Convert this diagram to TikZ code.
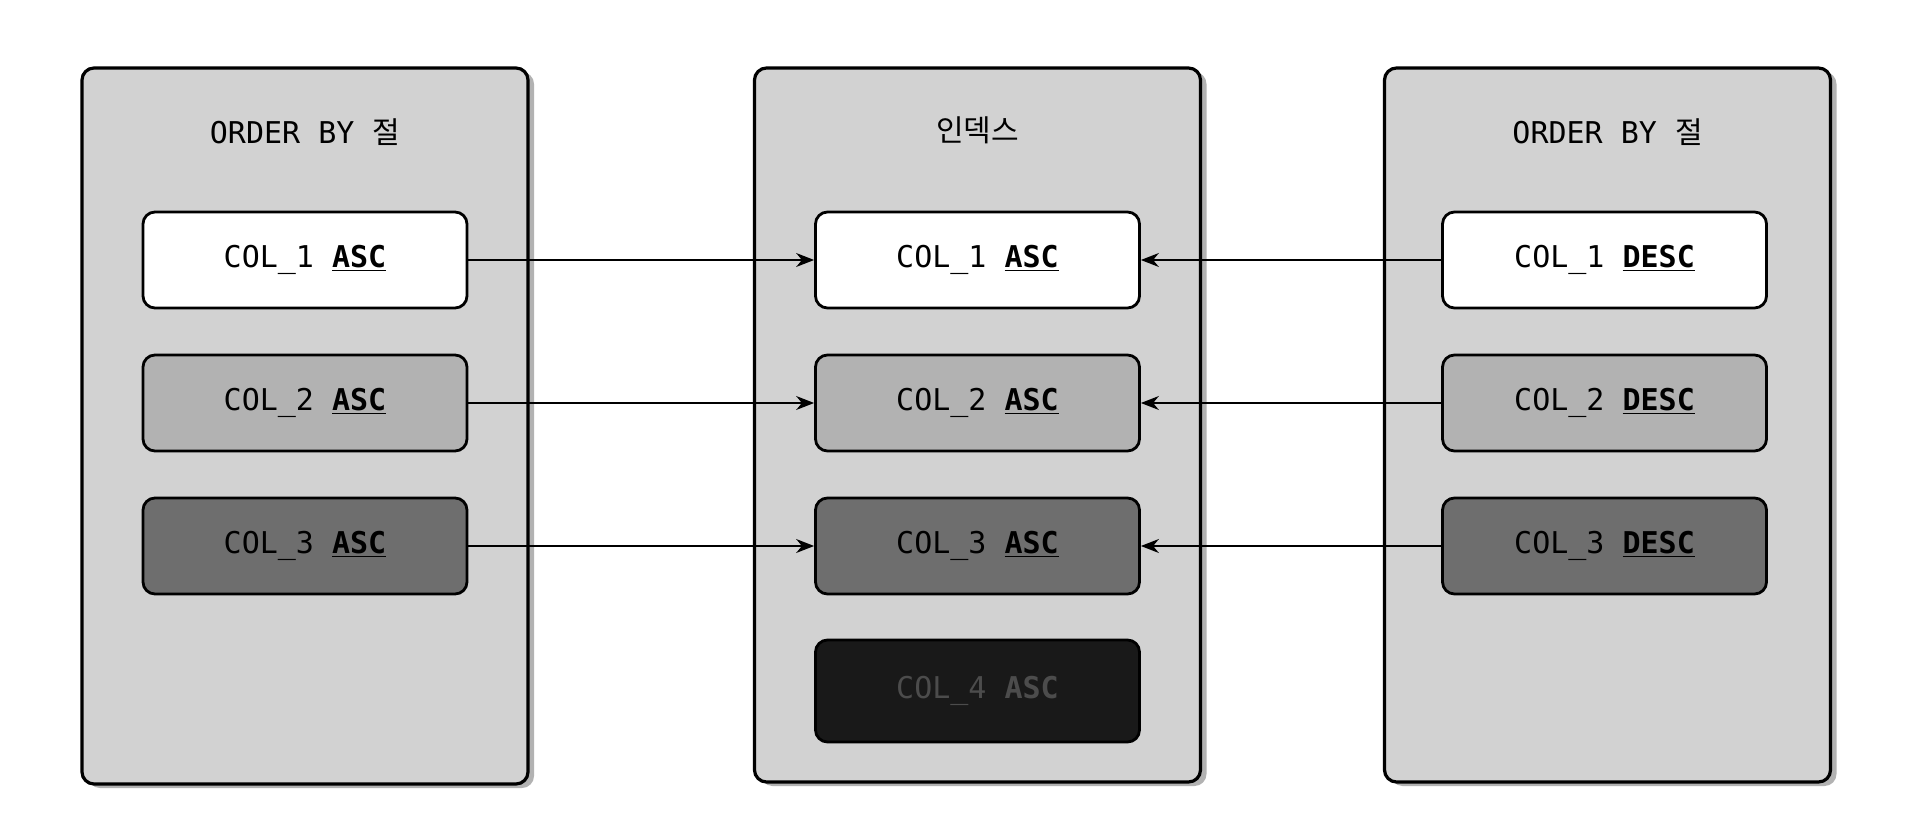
\documentclass[tikz,border=0pt]{standalone}
\usepackage{fontspec}
\setmonofont{DejaVu Sans Mono}
\newfontfamily\kr{Noto Sans CJK KR}
\usetikzlibrary{shadows,arrows.meta}
\begin{document}
\begin{tikzpicture}[x=0.5pt,y=-0.5pt,
 panel/.style={draw=black,line width=1.6pt,rounded corners=6pt,fill=gray!35!white,minimum width=223pt,minimum height=358pt,drop shadow={shadow xshift=3pt,shadow yshift=-2pt,opacity=0.6}},
 item/.style={draw=black,line width=1.4pt,rounded corners=6pt,minimum width=162pt,minimum height=48pt,font=\ttfamily\fontsize{15}{18}\selectfont,inner sep=0pt},
 ttl/.style={font=\ttfamily\fontsize{15}{18}\selectfont},
 conn/.style={-{Stealth[length=9pt,width=7pt]},line width=0.7pt}]
\useasboundingbox (0,0) rectangle (1920,839);
\fill[white] (0,0) rectangle (1920,839);
\node[panel] (pl) at (305,426) {};
\node[panel,minimum height=357pt] (pm) at (977.5,425) {};
\node[panel,minimum height=357pt] (pr) at (1607.5,425) {};
\node[ttl] (tl) at (305,132) {ORDER BY {\kr 절}};
\node[ttl] (tm) at (977.5,130) {\kr 인덱스};
\node[ttl] (tr) at (1607.5,132) {ORDER BY {\kr 절}};
\foreach \p/\x/\w in {l/305/ASC,m/977.5/ASC,r/1604.5/DESC}{
 \node[item,fill=white] (\p1) at (\x,260) {COL\_1 \textbf{\underline{\w}}};
 \node[item,fill=gray!60!white] (\p2) at (\x,403) {COL\_2 \textbf{\underline{\w}}};
 \node[item,fill=gray!105!black!0,fill=black!57] (\p3) at (\x,546) {COL\_3 \textbf{\underline{\w}}};
}
\node[item,fill=black!90,text=black!70,minimum height=51pt] (m4) at (977.5,691) {COL\_4 \textbf{ASC}};
\foreach \i in {1,2,3}{
 \draw[conn] (l\i.east) -- (m\i.west);
 \draw[conn] (r\i.west) -- (m\i.east);
}
\end{tikzpicture}
\end{document}
